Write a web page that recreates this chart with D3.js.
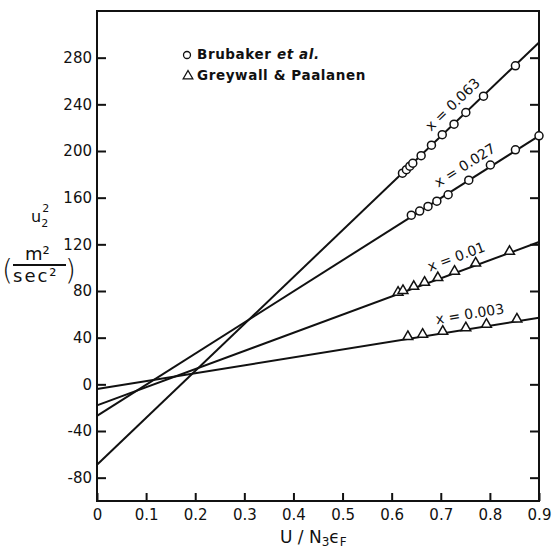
<!DOCTYPE html>
<html>
<head>
<meta charset="utf-8">
<script src="https://cdn.jsdelivr.net/npm/d3@7.9.0/dist/d3.min.js"></script>
<style>
  body { margin: 0; background: #fff; }
  svg { display: block; font-family: "DejaVu Sans", sans-serif; }
</style>
</head>
<body>
<svg id="chart" width="553" height="550"></svg>
<script>
// tick values
const xTicks = [0, 0.1, 0.2, 0.3, 0.4, 0.5, 0.6, 0.7, 0.8, 0.9];
const yTicks = [-80, -40, 0, 40, 80, 120, 160, 200, 240, 280];

// series labels and fitted straight lines (value at U/N3eF = 0 and 0.9)
const concLabels = ['x = 0.063', 'x = 0.027', 'x = 0.01', 'x = 0.003'];
const fitStart = [-69, -27, -18, -4];
const fitEnd = [293, 213, 122, 57];
const fitX = [0, 0.9];

// measured points
const x063 = [0.622, 0.630, 0.637, 0.643, 0.660, 0.681, 0.703, 0.727, 0.751, 0.787, 0.852];
const y063 = [181, 184, 187, 189.5, 196, 205, 214, 223, 233, 247, 273];
const x027 = [0.640, 0.657, 0.674, 0.692, 0.715, 0.757, 0.801, 0.852, 0.900];
const y027 = [145, 148.5, 152.5, 157, 162.5, 175, 188, 201, 213];
const x010 = [0.613, 0.623, 0.645, 0.667, 0.694, 0.728, 0.771, 0.840];
const y010 = [78, 79.5, 83, 86.5, 90.5, 96, 103, 113];
const x003 = [0.633, 0.663, 0.704, 0.751, 0.793, 0.855];
const y003 = [40, 42, 44.5, 47.5, 50.5, 55];

const pointsX = [x063, x027, x010, x003];
const pointsY = [y063, y027, y010, y003];
const markers = ['circle', 'circle', 'triangle', 'triangle'];
const labelAlong = [0.745, 0.765, 0.742, 0.764];

const svg = d3.select('#chart');
const plotL = 97, plotR = 539, plotT = 11, plotB = 501;

const x = d3.scaleLinear().domain([0, 0.9]).range([plotL, plotR]);
const y = d3.scaleLinear().domain([-100, 320]).range([plotB, plotT]);

// axes, ticks pointing inward
const yAxis = svg.append('g')
  .attr('transform', `translate(${plotL},0)`)
  .call(d3.axisLeft(y).tickValues(yTicks).tickSize(-9).tickPadding(5)
    .tickFormat(d => d < 0 ? '-' + Math.abs(d) : d));
const yAxisR = svg.append('g')
  .attr('transform', `translate(${plotR},0)`)
  .call(d3.axisRight(y).tickValues(yTicks).tickSize(-9).tickFormat(''));
const xAxis = svg.append('g')
  .attr('transform', `translate(0,${plotB})`)
  .call(d3.axisBottom(x).tickValues(xTicks).tickSize(-8).tickPadding(8)
    .tickFormat(d => d === 0 ? '0' : d3.format('.1f')(d)));

[yAxis, yAxisR, xAxis].forEach(a => {
  a.select('.domain').remove();
  a.selectAll('line').attr('stroke', '#111').attr('stroke-width', 2);
  a.selectAll('text').attr('fill', '#111').attr('font-size', 15)
    .attr('font-family', '"DejaVu Sans", sans-serif');
});

// frame
svg.append('rect')
  .attr('x', plotL).attr('y', plotT)
  .attr('width', plotR - plotL).attr('height', plotB - plotT)
  .attr('fill', 'none').attr('stroke', '#111').attr('stroke-width', 2);

const line = d3.line().x(d => x(d[0])).y(d => y(d[1]));
const tri = d3.symbol().type(d3.symbolTriangle).size(42);

concLabels.forEach((lab, i) => {
  const lineVals = fitX.map((v, k) => [v, k === 0 ? fitStart[i] : fitEnd[i]]);
  svg.append('path')
    .attr('d', line(lineVals))
    .attr('fill', 'none').attr('stroke', '#111').attr('stroke-width', 2);

  const pts = pointsX[i].map((v, k) => [v, pointsY[i][k]]);
  if (markers[i] === 'circle') {
    svg.append('g').selectAll('circle').data(pts).join('circle')
      .attr('cx', d => x(d[0])).attr('cy', d => y(d[1])).attr('r', 4)
      .attr('fill', '#fff').attr('stroke', '#111').attr('stroke-width', 1.5);
  } else {
    svg.append('g').selectAll('path').data(pts).join('path')
      .attr('d', tri)
      .attr('transform', d => `translate(${x(d[0])},${y(d[1]) - 1})`)
      .attr('fill', '#fff').attr('stroke', '#111').attr('stroke-width', 1.5);
  }

  // rotated label along the line
  const slope = (fitEnd[i] - fitStart[i]) / 0.9;
  const lx = labelAlong[i];
  const ly = fitStart[i] + slope * lx;
  const ang = Math.atan2(y(ly + slope * 0.1) - y(ly), x(lx + 0.1) - x(lx)) * 180 / Math.PI;
  svg.append('text')
    .attr('transform', `translate(${x(lx)},${y(ly)}) rotate(${ang})`)
    .attr('y', -10)
    .attr('text-anchor', 'middle')
    .attr('font-size', 14)
    .attr('fill', '#111')
    .text(lab);
});

// legend
const legend = svg.append('g');
legend.append('circle').attr('cx', 187).attr('cy', 55).attr('r', 3.5)
  .attr('fill', '#fff').attr('stroke', '#111').attr('stroke-width', 1.3);
legend.append('path').attr('d', d3.symbol().type(d3.symbolTriangle).size(40))
  .attr('transform', 'translate(188,76)')
  .attr('fill', '#fff').attr('stroke', '#111').attr('stroke-width', 1.3);
const l1 = legend.append('text').attr('x', 197).attr('y', 59)
  .attr('font-size', 13.5).attr('font-weight', 'bold').attr('letter-spacing', 0.6).attr('fill', '#111');
l1.append('tspan').text('Brubaker ');
l1.append('tspan').attr('font-style', 'italic').text('et al.');
legend.append('text').attr('x', 197).attr('y', 80)
  .attr('font-size', 13.5).attr('font-weight', 'bold').attr('letter-spacing', 0.6).attr('fill', '#111')
  .text('Greywall & Paalanen');

// x axis title
const xt = svg.append('text').attr('x', 280).attr('y', 543)
  .attr('font-size', 17).attr('fill', '#111');
xt.append('tspan').text('U / N');
xt.append('tspan').attr('font-size', 12).attr('dy', 3).text('3');
xt.append('tspan').attr('dy', -3).text('ϵ');
xt.append('tspan').attr('font-size', 12).attr('dy', 3).text('F');

// y axis title
const yt = svg.append('text').attr('x', 31).attr('y', 222)
  .attr('font-size', 16).attr('fill', '#111');
yt.append('tspan').text('u');
yt.append('tspan').attr('font-size', 11).attr('dy', 5).text('2');
yt.append('tspan').attr('font-size', 11).attr('dx', -6).attr('dy', -15).text('2');

svg.append('text').attr('x', 25).attr('y', 260).attr('font-size', 18).attr('fill', '#111')
  .text('m²');
svg.append('line').attr('x1', 13).attr('x2', 66).attr('y1', 265).attr('y2', 265)
  .attr('stroke', '#111').attr('stroke-width', 1.8);
svg.append('text').attr('x', 13).attr('y', 282).attr('font-size', 18)
  .attr('letter-spacing', 2).attr('fill', '#111').text('sec²');
svg.append('text').attr('x', 2).attr('y', 280).attr('font-size', 28)
  .attr('font-weight', 200).attr('fill', '#111').text('(');
svg.append('text').attr('x', 65).attr('y', 280).attr('font-size', 28)
  .attr('font-weight', 200).attr('fill', '#111').text(')');
</script>
</body>
</html>
